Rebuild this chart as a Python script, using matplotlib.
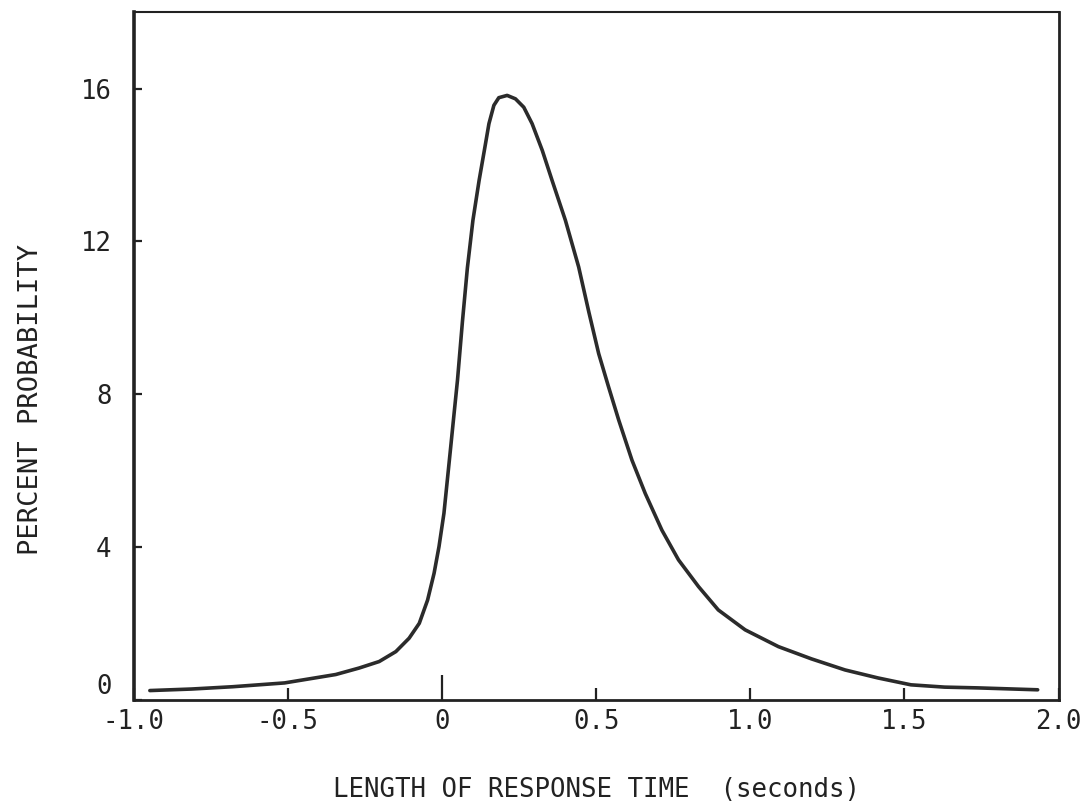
import numpy as np
import matplotlib.pyplot as plt

plt.rcParams['font.family'] = ['DejaVu Sans Mono']
plt.rcParams['axes.unicode_minus'] = False

# response time (s) vs percent probability
t = [-0.948, -0.813, -0.68, -0.511, -0.345, -0.269, -0.204, -0.150, -0.107,
     -0.074, -0.047, -0.026, -0.010, 0.006, 0.017, 0.028, 0.039, 0.050,
     0.066, 0.082, 0.100, 0.120, 0.139, 0.152, 0.168, 0.184, 0.211, 0.238,
     0.265, 0.292, 0.325, 0.357, 0.400, 0.443, 0.476, 0.508, 0.540, 0.573,
     0.616, 0.659, 0.713, 0.767, 0.832, 0.896, 0.983, 1.091, 1.198, 1.307,
     1.414, 1.521, 1.63, 1.738, 1.932]
p = [0.24, 0.28, 0.34, 0.44, 0.66, 0.83, 1.00, 1.26, 1.61,
     2.0, 2.61, 3.31, 4.01, 4.88, 5.75, 6.62, 7.50, 8.37,
     9.9, 11.3, 12.55, 13.59, 14.47, 15.08, 15.56, 15.76, 15.82, 15.73,
     15.51, 15.08, 14.38, 13.59, 12.55, 11.33, 10.15, 9.06, 8.19, 7.32,
     6.27, 5.40, 4.44, 3.66, 2.96, 2.35, 1.83, 1.39, 1.07, 0.78,
     0.57, 0.39, 0.33, 0.31, 0.26]

xticks = [-1.0, -0.5, 0, 0.5, 1.0, 1.5, 2.0]
xticklabels = ['-1.0', '-0.5', '0', '0.5', '1.0', '1.5', '2.0']
yticks = [0, 4, 8, 12, 16]

fig = plt.figure(figsize=(10.88, 8.08), dpi=100)
ax = fig.add_axes([0.123, 0.134, 0.850, 0.851])

ax.plot(t, p, color='#2b2b2b', lw=2.6, solid_capstyle='round',
        solid_joinstyle='round')

ax.set_xlim(-1.0, 2.0)
ax.set_ylim(0, 18)
ax.set_xticks(xticks)
ax.set_xticklabels(xticklabels)
ax.set_yticks(yticks)
ax.tick_params(direction='in', length=9, width=1.6, colors='#222222',
               labelsize=18.5, labelcolor='#222222')
ax.tick_params(axis='x', pad=7)
ax.tick_params(axis='y', pad=16, length=6)
# the zero mark on the time axis is drawn longer
for tk in ax.xaxis.get_major_ticks():
    if tk.get_loc() == 0:
        tk.tick1line.set_markersize(18)
# bottom y label sits just above the axis line
ax.get_yticklabels()[0].set_va('bottom')

for side, w in [('left', 2.6), ('bottom', 2.0), ('top', 1.5), ('right', 2.0)]:
    ax.spines[side].set_linewidth(w)
    ax.spines[side].set_color('#222222')

ax.set_xlabel('LENGTH OF RESPONSE TIME  (seconds)', fontsize=18.5,
              color='#222222', labelpad=30)
ax.set_ylabel('PERCENT PROBABILITY', fontsize=19.5, color='#222222',
              labelpad=24)
ax.yaxis.set_label_coords(-0.097, 0.436)

fig.savefig('out.png', dpi=100)
